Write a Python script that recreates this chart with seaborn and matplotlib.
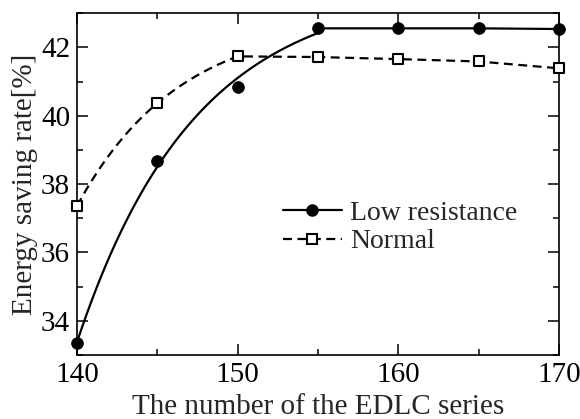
import numpy as np
import pandas as pd
import seaborn as sns
import matplotlib
matplotlib.use("Agg")
import matplotlib.pyplot as plt
from matplotlib.lines import Line2D
from matplotlib.ticker import MultipleLocator

# ---- data ----
edlc_series = [140, 145, 150, 155, 160, 165, 170]
low_resistance = [33.34, 38.69, 40.83, 42.56, 42.56, 42.56, 42.54]
normal = [37.36, 40.37, 41.74, 41.72, 41.66, 41.59, 41.39]
n_fit_low = 4     # points used for the saturating trend curve at the start
n_fit_normal = 3

x_label = "The number of the EDLC series"
y_label = "Energy saving rate[%]"
legend_labels = ["Low resistance", "Normal"]


def exp_trend(x, y):
    """Least-squares saturating exponential fit y = a + b*exp(-k*(x-x0))."""
    x = np.asarray(x, float)
    y = np.asarray(y, float)
    t = x - x[0]
    best = None
    for k in np.linspace(0.01, 1.5, 1500):
        A = np.column_stack([np.ones_like(t), np.exp(-k * t)])
        coef, *_ = np.linalg.lstsq(A, y, rcond=None)
        r = np.sum((A @ coef - y) ** 2)
        if best is None or r < best[0]:
            best = (r, k, coef)
    _, k, coef = best
    return lambda xx: coef[0] + coef[1] * np.exp(-k * (np.asarray(xx) - x[0]))


def trend_line(x, y, n):
    f = exp_trend(x[:n], y[:n])
    xs = np.linspace(x[0], x[n - 1], 200)
    ys = f(xs)
    xx = np.concatenate([xs, np.asarray(x[n - 1:], float)])
    yy = np.concatenate([ys, np.asarray(y[n - 1:], float)])
    return pd.DataFrame({"x": xx, "y": yy})


sns.set_style("ticks")
plt.rcParams["font.family"] = ["Liberation Serif", "DejaVu Serif"]

fig = plt.figure(figsize=(5.8, 4.19), dpi=100)
ax = fig.add_axes([77 / 580, 1 - 355 / 419, 482 / 580, 341.7 / 419])

low_df = trend_line(edlc_series, low_resistance, n_fit_low)
nor_df = trend_line(edlc_series, normal, n_fit_normal)

sns.lineplot(data=low_df, x="x", y="y", ax=ax, color="black", lw=1.6,
             estimator=None, sort=False)
sns.lineplot(data=nor_df, x="x", y="y", ax=ax, color="black", lw=1.6,
             estimator=None, sort=False, linestyle=(0, (4, 2.5)))

sns.scatterplot(x=edlc_series, y=low_resistance, ax=ax, marker="o", s=70,
                color="black", edgecolor="black", zorder=4, clip_on=False)
sns.scatterplot(x=edlc_series, y=normal, ax=ax, marker="s", s=60,
                facecolor="white", edgecolor="black", linewidth=1.5,
                zorder=4, clip_on=False)

ax.set_xlim(140, 170)
ax.set_ylim(33, 43)
ax.xaxis.set_major_locator(MultipleLocator(10))
ax.xaxis.set_minor_locator(MultipleLocator(5))
ax.yaxis.set_major_locator(MultipleLocator(2))
ax.yaxis.set_minor_locator(MultipleLocator(1))
ax.tick_params(which="both", direction="in", top=True, right=True,
               width=1.1, colors="black", labelsize=21, pad=5)
ax.tick_params(which="major", length=8)
ax.tick_params(which="minor", length=4)
for s in ax.spines.values():
    s.set_linewidth(1.2)
    s.set_color("black")

ax.set_xlabel(x_label, fontsize=21, labelpad=4.5)
ax.set_ylabel(y_label, fontsize=21, labelpad=2)

handles = [
    Line2D([], [], color="black", lw=1.6, marker="o", ms=8),
    Line2D([], [], color="black", lw=1.6, linestyle=(0, (4, 2.5)), marker="s",
           ms=7, mfc="white", mec="black", mew=1.5),
]
ax.legend(handles, legend_labels, loc="center left",
          bbox_to_anchor=(0.428, 0.374), frameon=False, fontsize=20,
          handlelength=2.1, handletextpad=0.3, labelspacing=0.12,
          borderaxespad=0, borderpad=0)

fig.savefig("out.png", dpi=100)
